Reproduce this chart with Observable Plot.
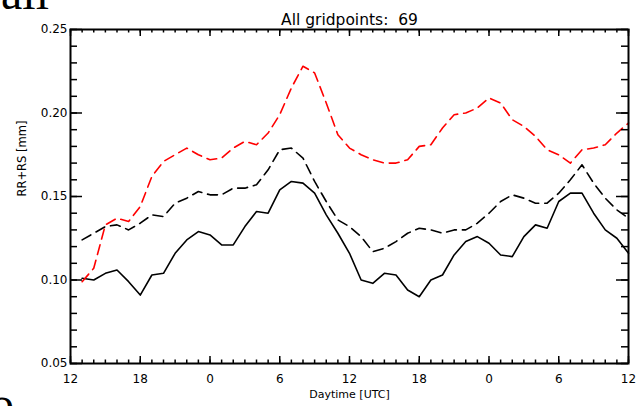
<!DOCTYPE html>
<html><head><meta charset="utf-8">
<script src="https://cdn.jsdelivr.net/npm/d3@7"></script>
<script src="https://cdn.jsdelivr.net/npm/@observablehq/plot@0.6"></script>
<style>
body{margin:0;background:#fff;overflow:hidden}
#wrap{position:relative;width:637px;height:406px;overflow:hidden;background:#fff}
#wrap svg{position:absolute;left:0;top:0}
.frag{position:absolute;font-family:"Liberation Serif",serif;font-size:48px;line-height:1;color:#000;white-space:nowrap}
</style></head><body>
<div id="wrap"></div>
<script>
// ---- data ----
const title = "All gridpoints:  69";
const xLabel = "Daytime [UTC]";
const yLabel = "RR+RS [mm]";
const hours = [1,2,3,4,5,6,7,8,9,10,11,12,13,14,15,16,17,18,19,20,21,22,23,24,
               25,26,27,28,29,30,31,32,33,34,35,36,37,38,39,40,41,42,43,44,45,46,47,48];
const redDashed = [0.099,0.107,0.133,0.137,0.135,0.144,0.162,0.171,0.175,0.179,0.175,0.172,
                   0.173,0.179,0.183,0.181,0.188,0.199,0.215,0.228,0.224,0.206,0.187,0.179,
                   0.175,0.172,0.170,0.170,0.172,0.180,0.181,0.191,0.199,0.200,0.203,0.209,
                   0.206,0.196,0.192,0.186,0.178,0.175,0.170,0.178,0.179,0.181,0.188,0.194];
const blackDashed = [0.124,0.128,0.132,0.133,0.130,0.134,0.139,0.138,0.146,0.149,0.153,0.151,
                     0.151,0.155,0.155,0.157,0.166,0.178,0.179,0.173,0.159,0.147,0.136,0.132,
                     0.126,0.117,0.119,0.123,0.128,0.131,0.130,0.128,0.130,0.130,0.134,0.140,
                     0.147,0.151,0.149,0.146,0.146,0.152,0.160,0.169,0.158,0.149,0.142,0.137];
const blackSolid = [0.101,0.100,0.104,0.106,0.099,0.091,0.103,0.104,0.116,0.124,0.129,0.127,
                    0.121,0.121,0.132,0.141,0.140,0.154,0.159,0.158,0.152,0.139,0.128,0.116,
                    0.100,0.098,0.104,0.103,0.094,0.090,0.100,0.103,0.115,0.123,0.126,0.122,
                    0.115,0.114,0.126,0.133,0.131,0.147,0.152,0.152,0.140,0.130,0.125,0.116];
const xTickValues = [0,6,12,18,24,30,36,42,48];
const xTickLabels = ["12","18","0","6","12","18","0","6","12"];
const yTickValues = [0.05,0.10,0.15,0.20,0.25];
const yTickLabels = ["0.05","0.10","0.15","0.20","0.25"];

// ---- layout ----
const W = 637, H = 406, mL = 70, mR = 9, mT = 29, mB = 43;
const fw = W - mL - mR, fh = H - mT - mB;
const xMinor = d3.range(0, 49, 1);
const yMinor = d3.range(5, 26, 1).map(v => v / 100);
const rows = hours.map((h, i) => ({h, red: redDashed[i], dash: blackDashed[i], solid: blackSolid[i]}));
const tk = {stroke: "#000", strokeWidth: 1.5};

const chart = Plot.plot({
  width: W, height: H,
  marginLeft: mL, marginRight: mR, marginTop: mT, marginBottom: mB,
  style: {fontFamily: "DejaVu Sans, sans-serif", fontSize: "12px", background: "transparent", color: "#000"},
  x: {domain: [0, 48]},
  y: {domain: [0.05, 0.25]},
  marks: [
    Plot.line(rows, {x: "h", y: "solid", stroke: "#000", strokeWidth: 1.6}),
    Plot.line(rows, {x: "h", y: "dash", stroke: "#000", strokeWidth: 1.6, strokeDasharray: "10,6"}),
    Plot.line(rows, {x: "h", y: "red", stroke: "#ff0000", strokeWidth: 1.6, strokeDasharray: "10,6"}),
    // inward ticks on all four sides
    Plot.tickX(xMinor, {x: d => d, insetTop: fh - 3.5, ...tk}),
    Plot.tickX(xMinor, {x: d => d, insetBottom: fh - 3.5, ...tk}),
    Plot.tickX(xTickValues, {x: d => d, insetTop: fh - 7, ...tk}),
    Plot.tickX(xTickValues, {x: d => d, insetBottom: fh - 7, ...tk}),
    Plot.tickY(yMinor, {y: d => d, insetRight: fw - 7, ...tk}),
    Plot.tickY(yMinor, {y: d => d, insetLeft: fw - 7, ...tk}),
    Plot.tickY(yTickValues, {y: d => d, insetRight: fw - 12, ...tk}),
    Plot.tickY(yTickValues, {y: d => d, insetLeft: fw - 12, ...tk}),
    Plot.frame({stroke: "#000", strokeWidth: 2}),
    Plot.axisX({ticks: xTickValues, tickFormat: d => xTickLabels[xTickValues.indexOf(d)],
                tickSize: 0, tickPadding: 11, label: null, fontSize: 12}),
    Plot.axisY({ticks: yTickValues, tickFormat: d => yTickLabels[yTickValues.indexOf(d)],
                tickSize: 0, tickPadding: 3, label: null, fontSize: 12}),
    Plot.text([title], {text: d => d, frameAnchor: "top", dy: -16, fontSize: 15.5}),
    Plot.text([xLabel], {text: d => d, frameAnchor: "bottom", dy: 34, fontSize: 11}),
    Plot.text([yLabel], {text: d => d, frameAnchor: "left", dx: -48, rotate: -90, fontSize: 11.5})
  ]
});
const wrap = document.getElementById("wrap");
wrap.appendChild(chart);
const f1 = document.createElement("div");
f1.className = "frag"; f1.textContent = "all";
f1.style.left = "1px"; f1.style.top = "-31px";
wrap.appendChild(f1);
const f2 = document.createElement("div");
f2.className = "frag"; f2.textContent = "o";
f2.style.left = "-10px"; f2.style.top = "380px";
wrap.appendChild(f2);
</script>
</body></html>
